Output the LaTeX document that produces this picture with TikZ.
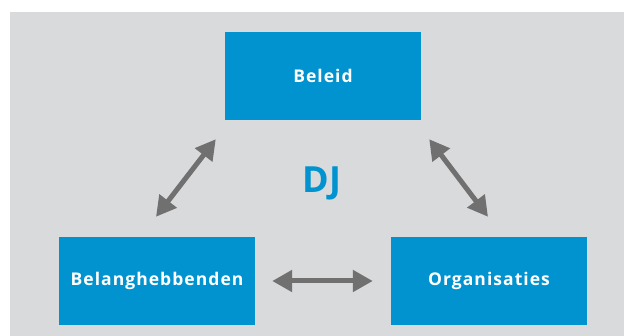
\documentclass[tikz,border=0pt]{standalone}
\usepackage{fontspec}
\setmainfont{Open Sans}
\usetikzlibrary{arrows.meta,positioning}
\definecolor{djblue}{RGB}{0,147,208}
\definecolor{djgray}{RGB}{217,218,220}
\definecolor{arrowgray}{RGB}{112,112,112}
\tikzset{
  block/.style={fill=djblue, text=white, minimum width=196pt, minimum height=88pt,
    inner sep=0pt, font=\bfseries\fontsize{17.5}{21}\selectfont\addfontfeature{LetterSpace=6}},
  link/.style={draw=arrowgray, line width=5pt, {Triangle[length=20pt,width=21pt]}-{Triangle[length=20pt,width=21pt]}}
}
\begin{document}
\begin{tikzpicture}[x=1pt,y=-1pt]
	\useasboundingbox (0,0) rectangle (624,336);
	\fill[djgray] (10,12) rectangle (624,336);
	% the three parties
	\node[block] (beleid) at (323,76) {Beleid};
	\node[block] (belang) at (157,281) {Belanghebbenden};
	\node[block] (organ) at (489,281) {Organisaties};
	\node[text=djblue, font=\bfseries\fontsize{36}{40}\selectfont] (dj) at (322,183) {DJ};
	% arrow ends
	\coordinate (lt) at ([xshift=-9pt,yshift=-19pt]beleid.south west);
	\coordinate (lb) at ([xshift=-1pt,yshift=20pt]belang.north);
	\coordinate (rt) at ([xshift=8pt,yshift=-19pt]beleid.south east);
	\coordinate (rb) at ([xshift=-1pt,yshift=20pt]organ.north);
	\draw[link] (lb) -- (lt);
	\draw[link] (rt) -- (rb);
	\draw[link, shorten <=17pt, shorten >=18pt] (belang.east) -- (organ.west);
\end{tikzpicture}
\end{document}
